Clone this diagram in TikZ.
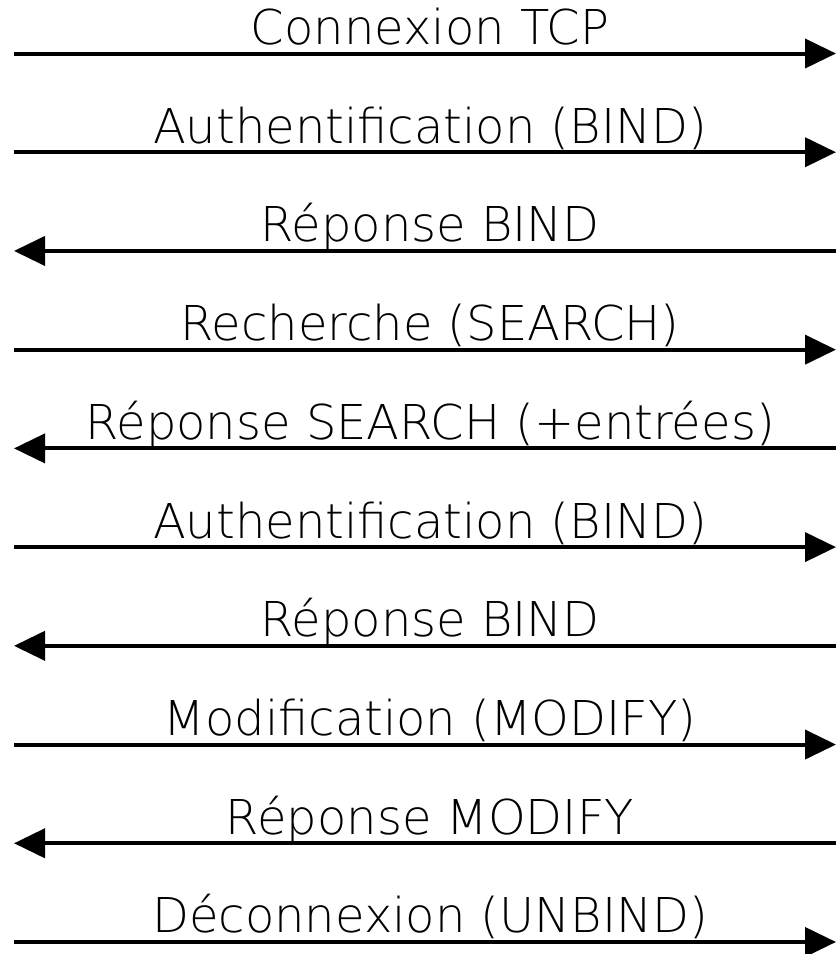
\documentclass[tikz,border=0pt]{standalone}
\usepackage{fontspec}
\setmainfont{DejaVu Sans ExtraLight}
\usetikzlibrary{arrows.meta}
\begin{document}
\begin{tikzpicture}[x=1pt,y=1pt,
  msg/.style={line width=4pt,-{Triangle[length=31pt,width=29pt]}},
  lbl/.style={anchor=base,inner sep=0pt,font=\fontsize{48}{52}\selectfont}]
\useasboundingbox (0,0) rectangle (836,-954);
\foreach \i/\t/\d in {0/Connexion TCP/r,1/Authentification (BIND)/r,2/Réponse BIND/l,3/Recherche (SEARCH)/r,4/Réponse SEARCH (+entrées)/l,5/Authentification (BIND)/r,6/Réponse BIND/l,7/Modification (MODIFY)/r,8/Réponse MODIFY/l,9/Déconnexion (UNBIND)/r}{
  \pgfmathsetmacro{\yy}{-53.5-98.72*\i}
  \coordinate (L\i) at (14,\yy);
  \coordinate (R\i) at (836,\yy);
  \node[lbl] (t\i) at (430,\yy+9) {\t};
  \if\d r
    \draw[msg] (L\i) -- (R\i);
  \else
    \draw[msg] (R\i) -- (L\i);
  \fi
}
\end{tikzpicture}
\end{document}
